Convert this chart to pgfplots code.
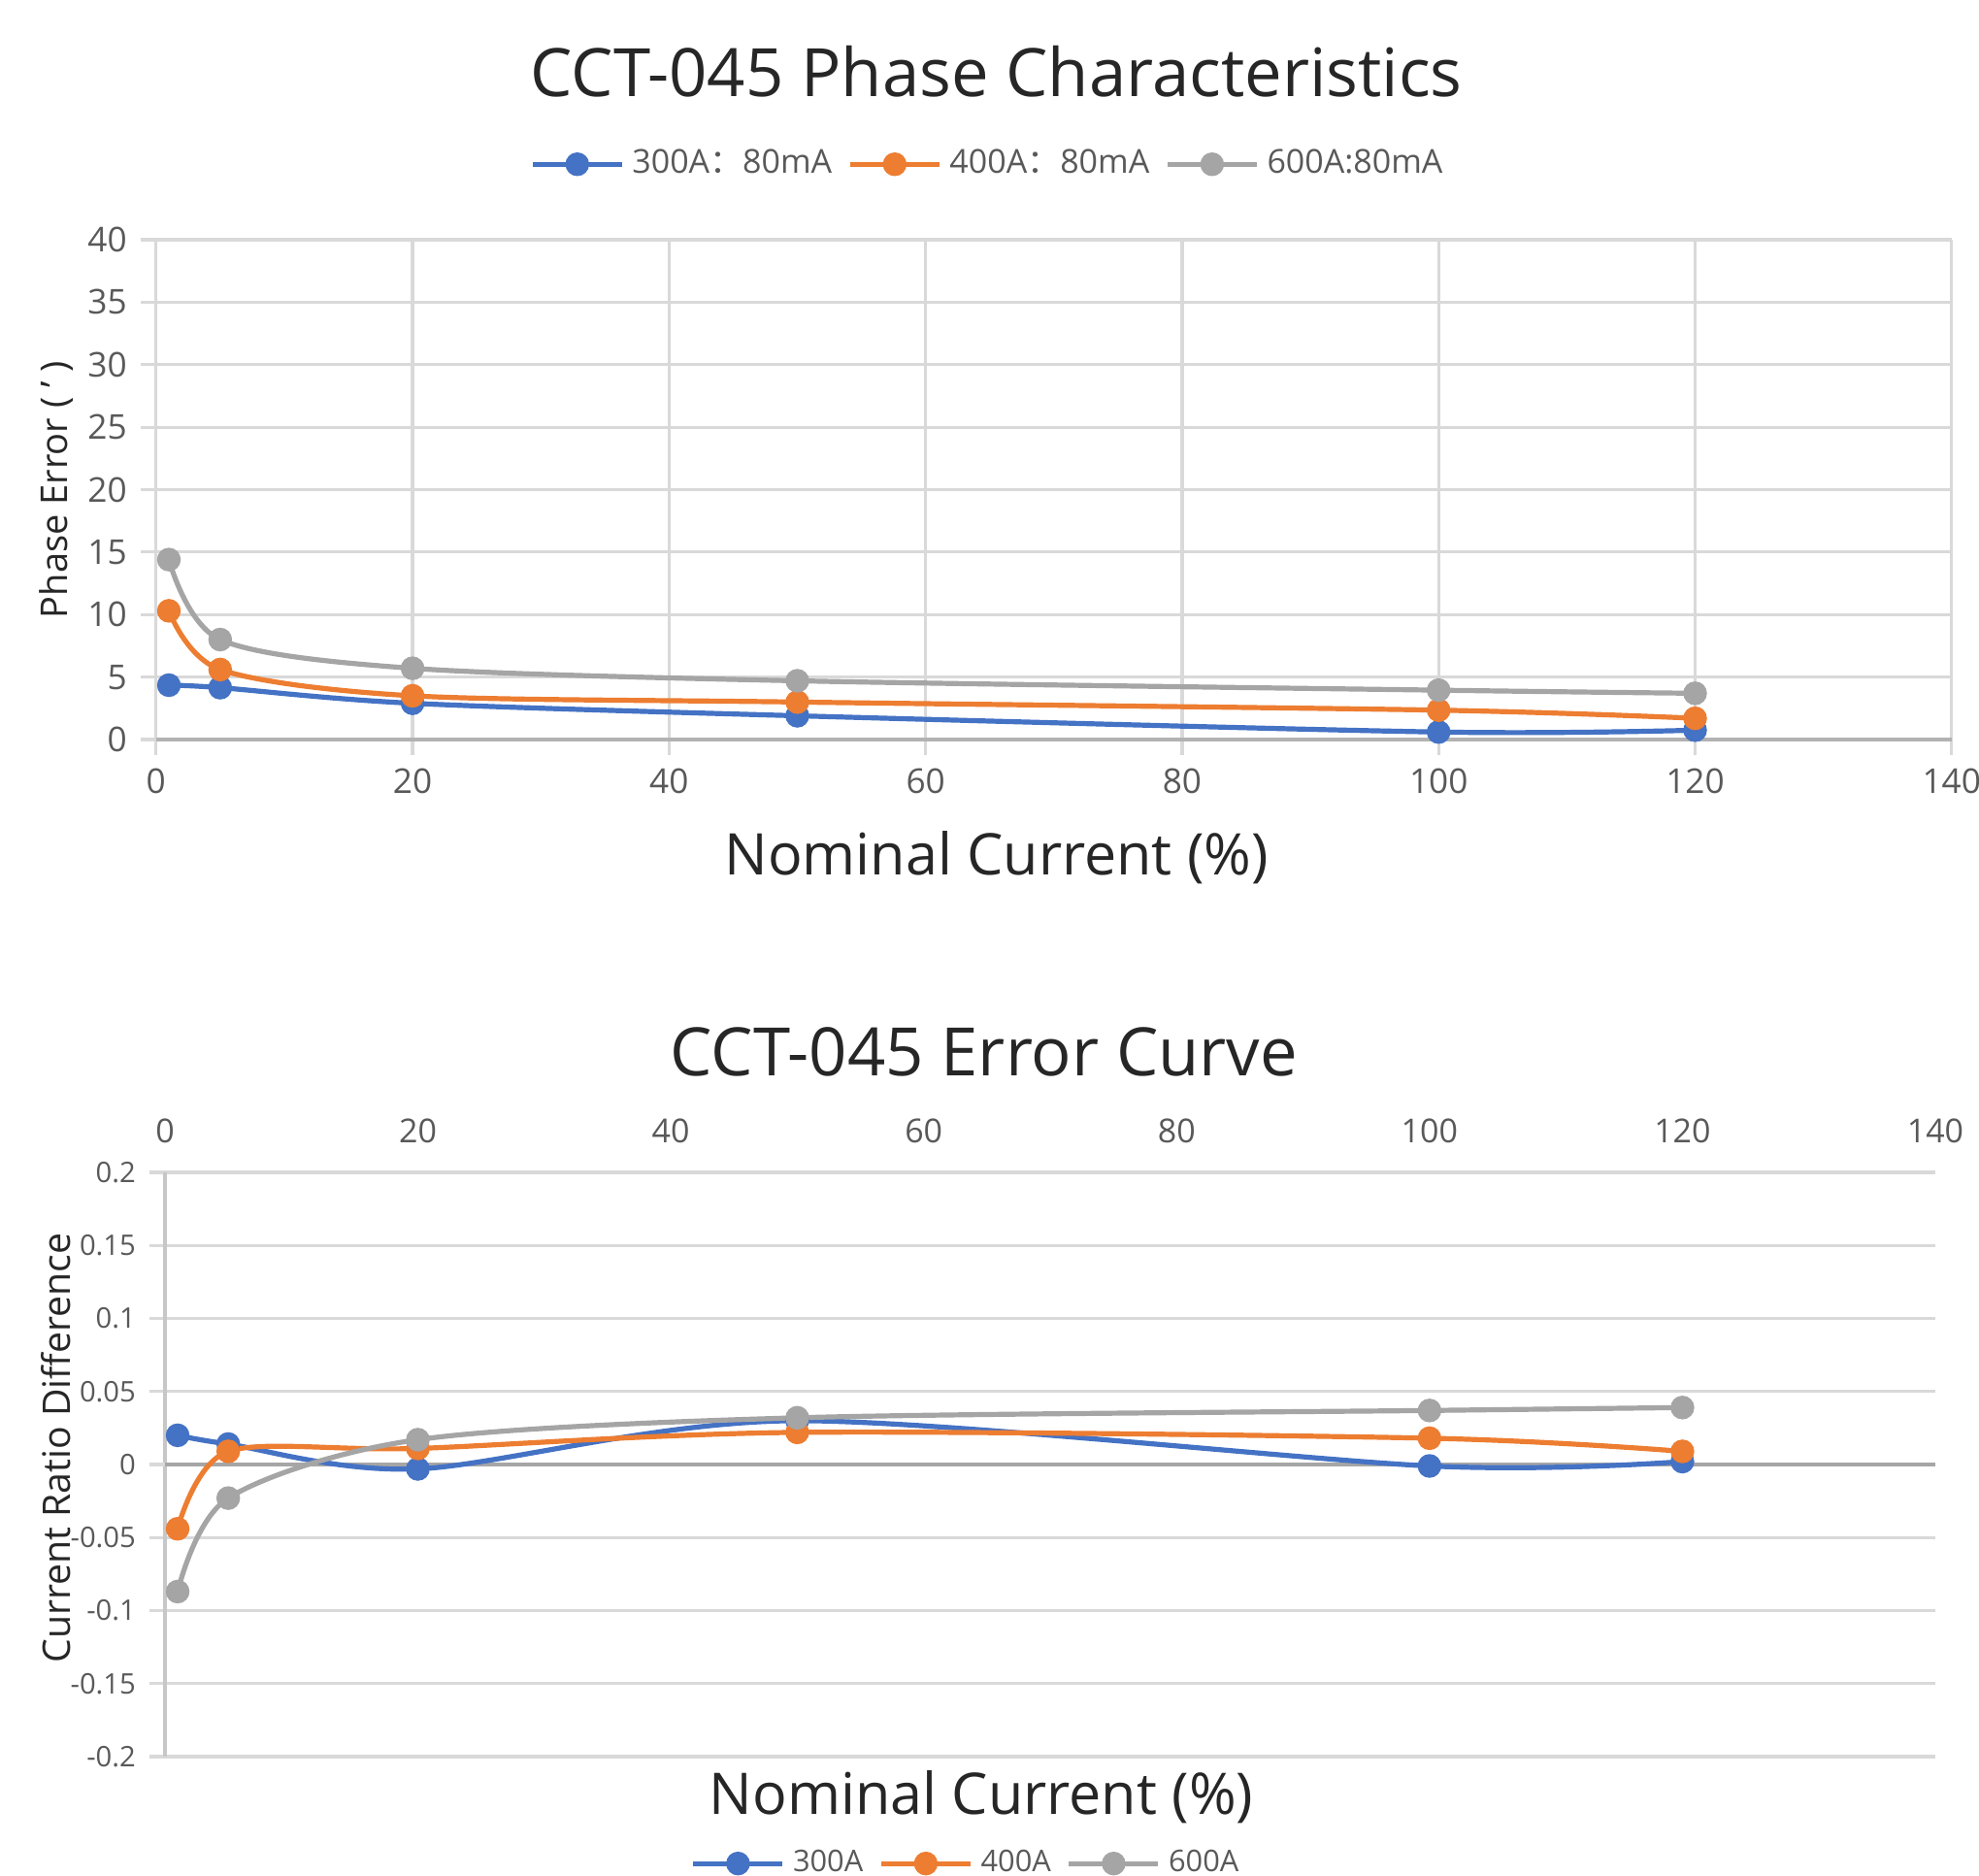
\documentclass[border=0pt]{standalone}
\usepackage{fontspec}
\setmainfont{Open Sans}
\newfontfamily\cjk{Noto Sans CJK SC}
\usepackage{pgfplots}
\pgfplotsset{compat=1.18}

\definecolor{c300}{HTML}{4472C4}
\definecolor{c400}{HTML}{ED7D31}
\definecolor{c600}{HTML}{A5A5A5}
\definecolor{txt}{HTML}{595959}
\definecolor{ttl}{HTML}{262626}
\definecolor{grd}{HTML}{D9D9D9}

\pgfplotsset{
  excel/.style={
    scale only axis,
    /pgf/number format/assume math mode=true,
    tick label style={text=txt},
    major tick length=4pt,
    tick align=outside,
    grid style={grd, line width=0.8pt},
    legend cell align=left,
    legend style={draw=none, fill=none, anchor=center, legend columns=-1,
      font=\fontsize{8.5}{10}\selectfont, text=txt,
      /tikz/every even column/.append style={column sep=2pt}},
    legend image code/.code={%
      \draw[mark repeat=2, mark phase=2] plot coordinates {(0pt,0pt) (11.5pt,0pt) (23pt,0pt)};},
    every axis plot/.append style={smooth, tension=0.5, line width=1.3pt,
      mark=*, mark size=2.4pt},
  },
}

\begin{document}
\begin{tikzpicture}
\useasboundingbox (0,0) rectangle (509.75pt,483pt);

% top chart: phase error
\begin{axis}[excel,
  at={(40.2pt,292.5pt)}, anchor=south west,
  width=462.5pt, height=128.75pt,
  xmin=0, xmax=140, ymin=0, ymax=40,
  xtick={0,20,...,140}, ytick={0,5,...,40},
  xmajorgrids, ymajorgrids,
  axis x line*=bottom, axis y line*=left,
  x axis line style={-, draw=black!30, line width=0.8pt},
  y axis line style={draw=none},
  tick style={draw=grd, line width=0.8pt},
  tick label style={font=\fontsize{8.8}{10}\selectfont},
  title={CCT-045 Phase Characteristics},
  title style={at={(axis description cs:0.468,1.290)}, anchor=center,
    font=\fontsize{17.2}{20}\selectfont, text=ttl},
  xlabel={Nominal Current (\%)},
  xlabel style={at={(axis description cs:0.468,-0.237)}, anchor=center,
    font=\fontsize{14.8}{17}\selectfont, text=ttl},
  ylabel={Phase Error ( ' )},
  ylabel style={at={(axis description cs:-0.0557,0.5)}, anchor=center,
    font=\fontsize{9.5}{12}\selectfont, text=ttl},
  legend style={at={(0.4646,1.151)}},
]
\addplot[color=c300, mark options={fill=c300}] coordinates {
  (1,4.35) (5,4.15) (20,2.9) (50,1.9) (100,0.6) (120,0.75)};
\addlegendentry{300A{\cjk ：}80mA}
\addplot[color=c400, mark options={fill=c400}] coordinates {
  (1,10.3) (5,5.6) (20,3.5) (50,3.0) (100,2.35) (120,1.7)};
\addlegendentry{400A{\cjk ：}80mA}
\addplot[color=c600, mark options={fill=c600}] coordinates {
  (1,14.4) (5,8.0) (20,5.7) (50,4.7) (100,3.95) (120,3.7)};
\addlegendentry{600A:80mA}
\end{axis}

% bottom chart: current ratio difference
\begin{axis}[excel,
  at={(42.5pt,30.5pt)}, anchor=south west,
  width=456pt, height=150.5pt,
  xmin=0, xmax=140, ymin=-0.2, ymax=0.2,
  xtick={0,20,...,140},
  ytick={-0.2,-0.15,-0.1,-0.05,0,0.05,0.1,0.15,0.2},
  yticklabels={-0.2,-0.15,-0.1,-0.05,0,0.05,0.1,0.15,0.2},
  ymajorgrids,
  extra y ticks={0}, extra y tick labels={},
  extra y tick style={grid style={black!35, line width=0.8pt}, tick style={draw=none}},
  axis x line*=top, axis y line*=left,
  x axis line style={draw=none},
  y axis line style={-, draw=black!22, line width=0.8pt},
  xtick style={draw=none},
  ytick style={draw=grd, line width=0.8pt},
  xticklabel style={font=\fontsize{8.5}{10}\selectfont},
  yticklabel style={font=\fontsize{7.3}{9}\selectfont},
  title={CCT-045 Error Curve},
  title style={at={(axis description cs:0.4627,1.166)}, anchor=center,
    font=\fontsize{17.2}{20}\selectfont, text=ttl},
  xlabel={Nominal Current (\%)},
  xlabel style={at={(axis description cs:0.4611,-0.0698)}, anchor=center,
    font=\fontsize{14.8}{17}\selectfont, text=ttl},
  ylabel={Current Ratio Difference},
  ylabel style={at={(axis description cs:-0.0614,0.528)}, anchor=center,
    font=\fontsize{9.8}{12}\selectfont, text=ttl},
  legend style={at={(0.454,-0.183)}, font=\fontsize{7.7}{9}\selectfont},
]
\addplot[color=c300, mark options={fill=c300}] coordinates {
  (1,0.020) (5,0.014) (20,-0.003) (50,0.030) (100,-0.001) (120,0.002)};
\addlegendentry{300A}
\addplot[color=c400, mark options={fill=c400}] coordinates {
  (1,-0.044) (5,0.009) (20,0.011) (50,0.022) (100,0.018) (120,0.009)};
\addlegendentry{400A}
\addplot[color=c600, mark options={fill=c600}] coordinates {
  (1,-0.087) (5,-0.023) (20,0.017) (50,0.032) (100,0.037) (120,0.039)};
\addlegendentry{600A}
\end{axis}
\end{tikzpicture}
\end{document}
